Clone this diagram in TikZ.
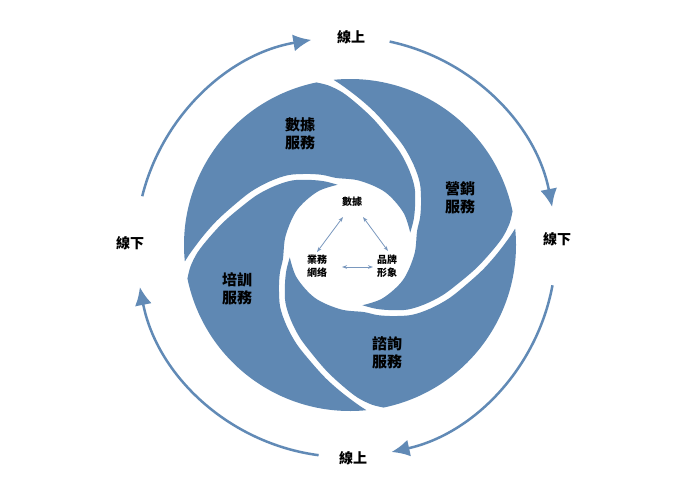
\documentclass[tikz,border=0pt]{standalone}
\usepackage{fontspec}
\newfontfamily\cjk{Noto Sans CJK TC}
\usetikzlibrary{arrows.meta,calc}
\definecolor{bladeblue}{RGB}{95,136,179}
\definecolor{ringblue}{RGB}{97,138,182}
\definecolor{thinblue}{RGB}{122,152,190}
\newcommand\drawblade[1]{%
  \fill[blade, rotate=#1]
    plot[smooth, tension=0.55] coordinates {(0:61.5) (10:68.5) (20:76.5) (30:86.5) (40:95.5) (50:105.5) (60:116.5) (68:128.5) (75:140.5) (81:152.5) (86:161) (90:166)}
    arc[start angle=90, end angle=174, radius=166]
    -- plot[smooth, tension=0.55] coordinates {(174:166) (171:159.5) (165:147.5) (158:135.5) (150:123.5) (140:112.5) (130:102.5) (120:93.5) (110:83.5) (100:75.5) (90:68.5) (70:65) (45:63.5) (20:62.5) (0:61.5)}
    -- cycle;}
\begin{document}
\begin{tikzpicture}[x=1pt,y=1pt,
  blade/.style={fill=bladeblue},
  ring/.style={draw=ringblue, line width=2.5pt, -{Latex[length=18pt,width=17pt]}},
  link/.style={draw=thinblue, line width=0.8pt, {Stealth[length=5pt,width=3.6pt]}-{Stealth[length=5pt,width=3.6pt]}},
  bladelabel/.style={font={\cjk\bfseries\fontsize{15}{18}\selectfont}, align=center, text=black, inner sep=0pt},
  ringlabel/.style={font={\cjk\bfseries\fontsize{14}{16}\selectfont}, text=black, inner sep=0pt},
  smalllabel/.style={font={\cjk\bfseries\fontsize{10}{12.5}\selectfont}, align=center, text=black, inner sep=0pt}]
\useasboundingbox (0,-484) rectangle (700,0);
\fill[white] (0,-484) rectangle (700,0);
% blades
\begin{scope}[shift={(350,-245)}]
  \drawblade{11.7}
  \drawblade{101.7}
  \drawblade{191.7}
  \drawblade{281.7}
\end{scope}
% blade labels
\node[bladelabel] (dsvc) at (300,-134) {數據\\服務};
\node[bladelabel] (msvc) at (460,-198) {營銷\\服務};
\node[bladelabel] (tsvc) at (237,-289) {培訓\\服務};
\node[bladelabel] (csvc) at (387,-353) {諮詢\\服務};
% ring labels
\node[ringlabel] (ontop) at (351,-37) {線上};
\node[ringlabel] (offright) at (557,-239) {線下};
\node[ringlabel] (offleft) at (130,-243) {線下};
\node[ringlabel] (onbot) at (353,-458) {線上};
% ring arrows
\coordinate (rc) at (346,-247);
\coordinate (r1s) at ($(rc)+(166:210)$);
\coordinate (r2s) at ($(rc)+(78:210)$);
\coordinate (r3s) at ($(rc)+(-10.5:210)$);
\coordinate (r4s) at ($(rc)+(262.5:210)$);
\draw[ring] (r1s) arc[start angle=166, end angle=99.5, radius=210];
\draw[ring] (r2s) arc[start angle=78, end angle=11, radius=210];
\draw[ring] (r3s) arc[start angle=-10.5, end angle=-77.5, radius=210];
\draw[ring] (r4s) arc[start angle=262.5, end angle=191, radius=210];
% inner labels
\node[smalllabel] (sj) at (352,-202) {數據};
\node[smalllabel] (yw) at (317,-266) {業務\\網络};
\node[smalllabel] (pp) at (387,-266) {品牌\\形象};
\coordinate (l1a) at (343,-217);
\coordinate (l1b) at (317,-252);
\coordinate (l2a) at (363,-217);
\coordinate (l2b) at (388,-251);
\coordinate (l3a) at (342,-267);
\coordinate (l3b) at (373,-267);
\draw[link] (l1a) -- (l1b);
\draw[link] (l2a) -- (l2b);
\draw[link] (l3a) -- (l3b);
\end{tikzpicture}
\end{document}
